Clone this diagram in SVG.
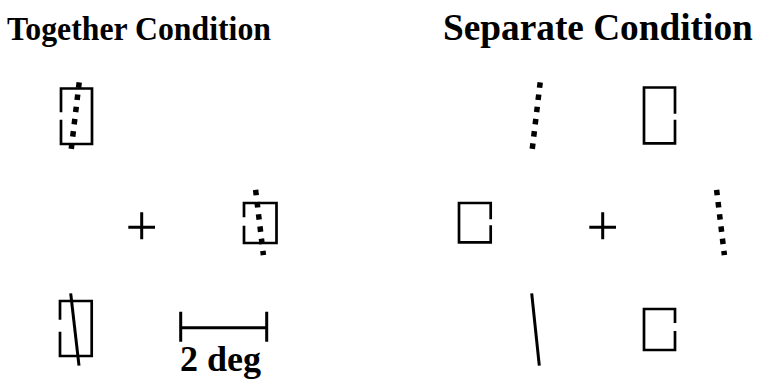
<svg xmlns="http://www.w3.org/2000/svg" width="758" height="387" viewBox="0 0 758 387">
<style>
.t{font-family:"Liberation Serif","Times New Roman",serif;font-weight:bold;fill:#000}
.frame{fill:none;stroke:#000;stroke-width:2.7;stroke-linecap:square}
.dots{fill:none;stroke:#000;stroke-width:5.5;stroke-dasharray:5.5 6.8}
.bar{fill:none;stroke:#000;stroke-width:3}
.ln{fill:none;stroke:#000;stroke-width:3}
</style>
<rect width="758" height="387" fill="#fff"/>
<text class="t" x="7" y="39.5" font-size="34" textLength="264" lengthAdjust="spacingAndGlyphs">Together Condition</text>
<text class="t" x="443" y="40" font-size="37.3">Separate Condition</text>
<g id="together-top">
<path class="frame" d="M61,111 V88.5 H92 V144 H61 V121"/>
<path class="dots" d="M79.2,82.3 L71.1,150.3"/>
</g>
<g id="together-fixation">
<path class="ln" d="M128.3,227.3 H155 M141.7,212.3 V239.3"/>
</g>
<g id="together-mid">
<path class="frame" d="M244,216 V203 H276.5 V243 H244 V227"/>
<path class="dots" d="M255.6,189.8 L263.4,255.2"/>
</g>
<g id="together-bottom">
<path class="frame" d="M60,318.5 V301 H91.7 V356 H60 V333"/>
<path class="ln" d="M70.7,293.3 L79,365.7"/>
</g>
<g id="scale-bar">
<path class="bar" d="M180.7,311.7 V341.7 M266.7,311.7 V341.7 M180.7,327.7 H266.7"/>
<text class="t" x="180" y="371" font-size="36">2 deg</text>
</g>
<g id="separate-top-left">
<path class="dots" d="M540.2,82.3 L532.1,150.3"/>
</g>
<g id="separate-top-right">
<path class="frame" d="M675,112.5 V87.5 H644 V143.3 H675 V121"/>
</g>
<g id="separate-mid-left">
<path class="frame" d="M490.7,218 V203 H459 V242.3 H490.7 V226.5"/>
</g>
<g id="separate-fixation">
<path class="ln" d="M589.3,227.3 H616 M602.7,212.3 V239.3"/>
</g>
<g id="separate-mid-right">
<path class="dots" d="M716.6,189.8 L724.4,255.2"/>
</g>
<g id="separate-bottom-left">
<path class="ln" d="M531.7,293.3 L539.3,365.7"/>
</g>
<g id="separate-bottom-right">
<path class="frame" d="M675,321.7 V309 H644 V350 H675 V332.3"/>
</g>
</svg>
